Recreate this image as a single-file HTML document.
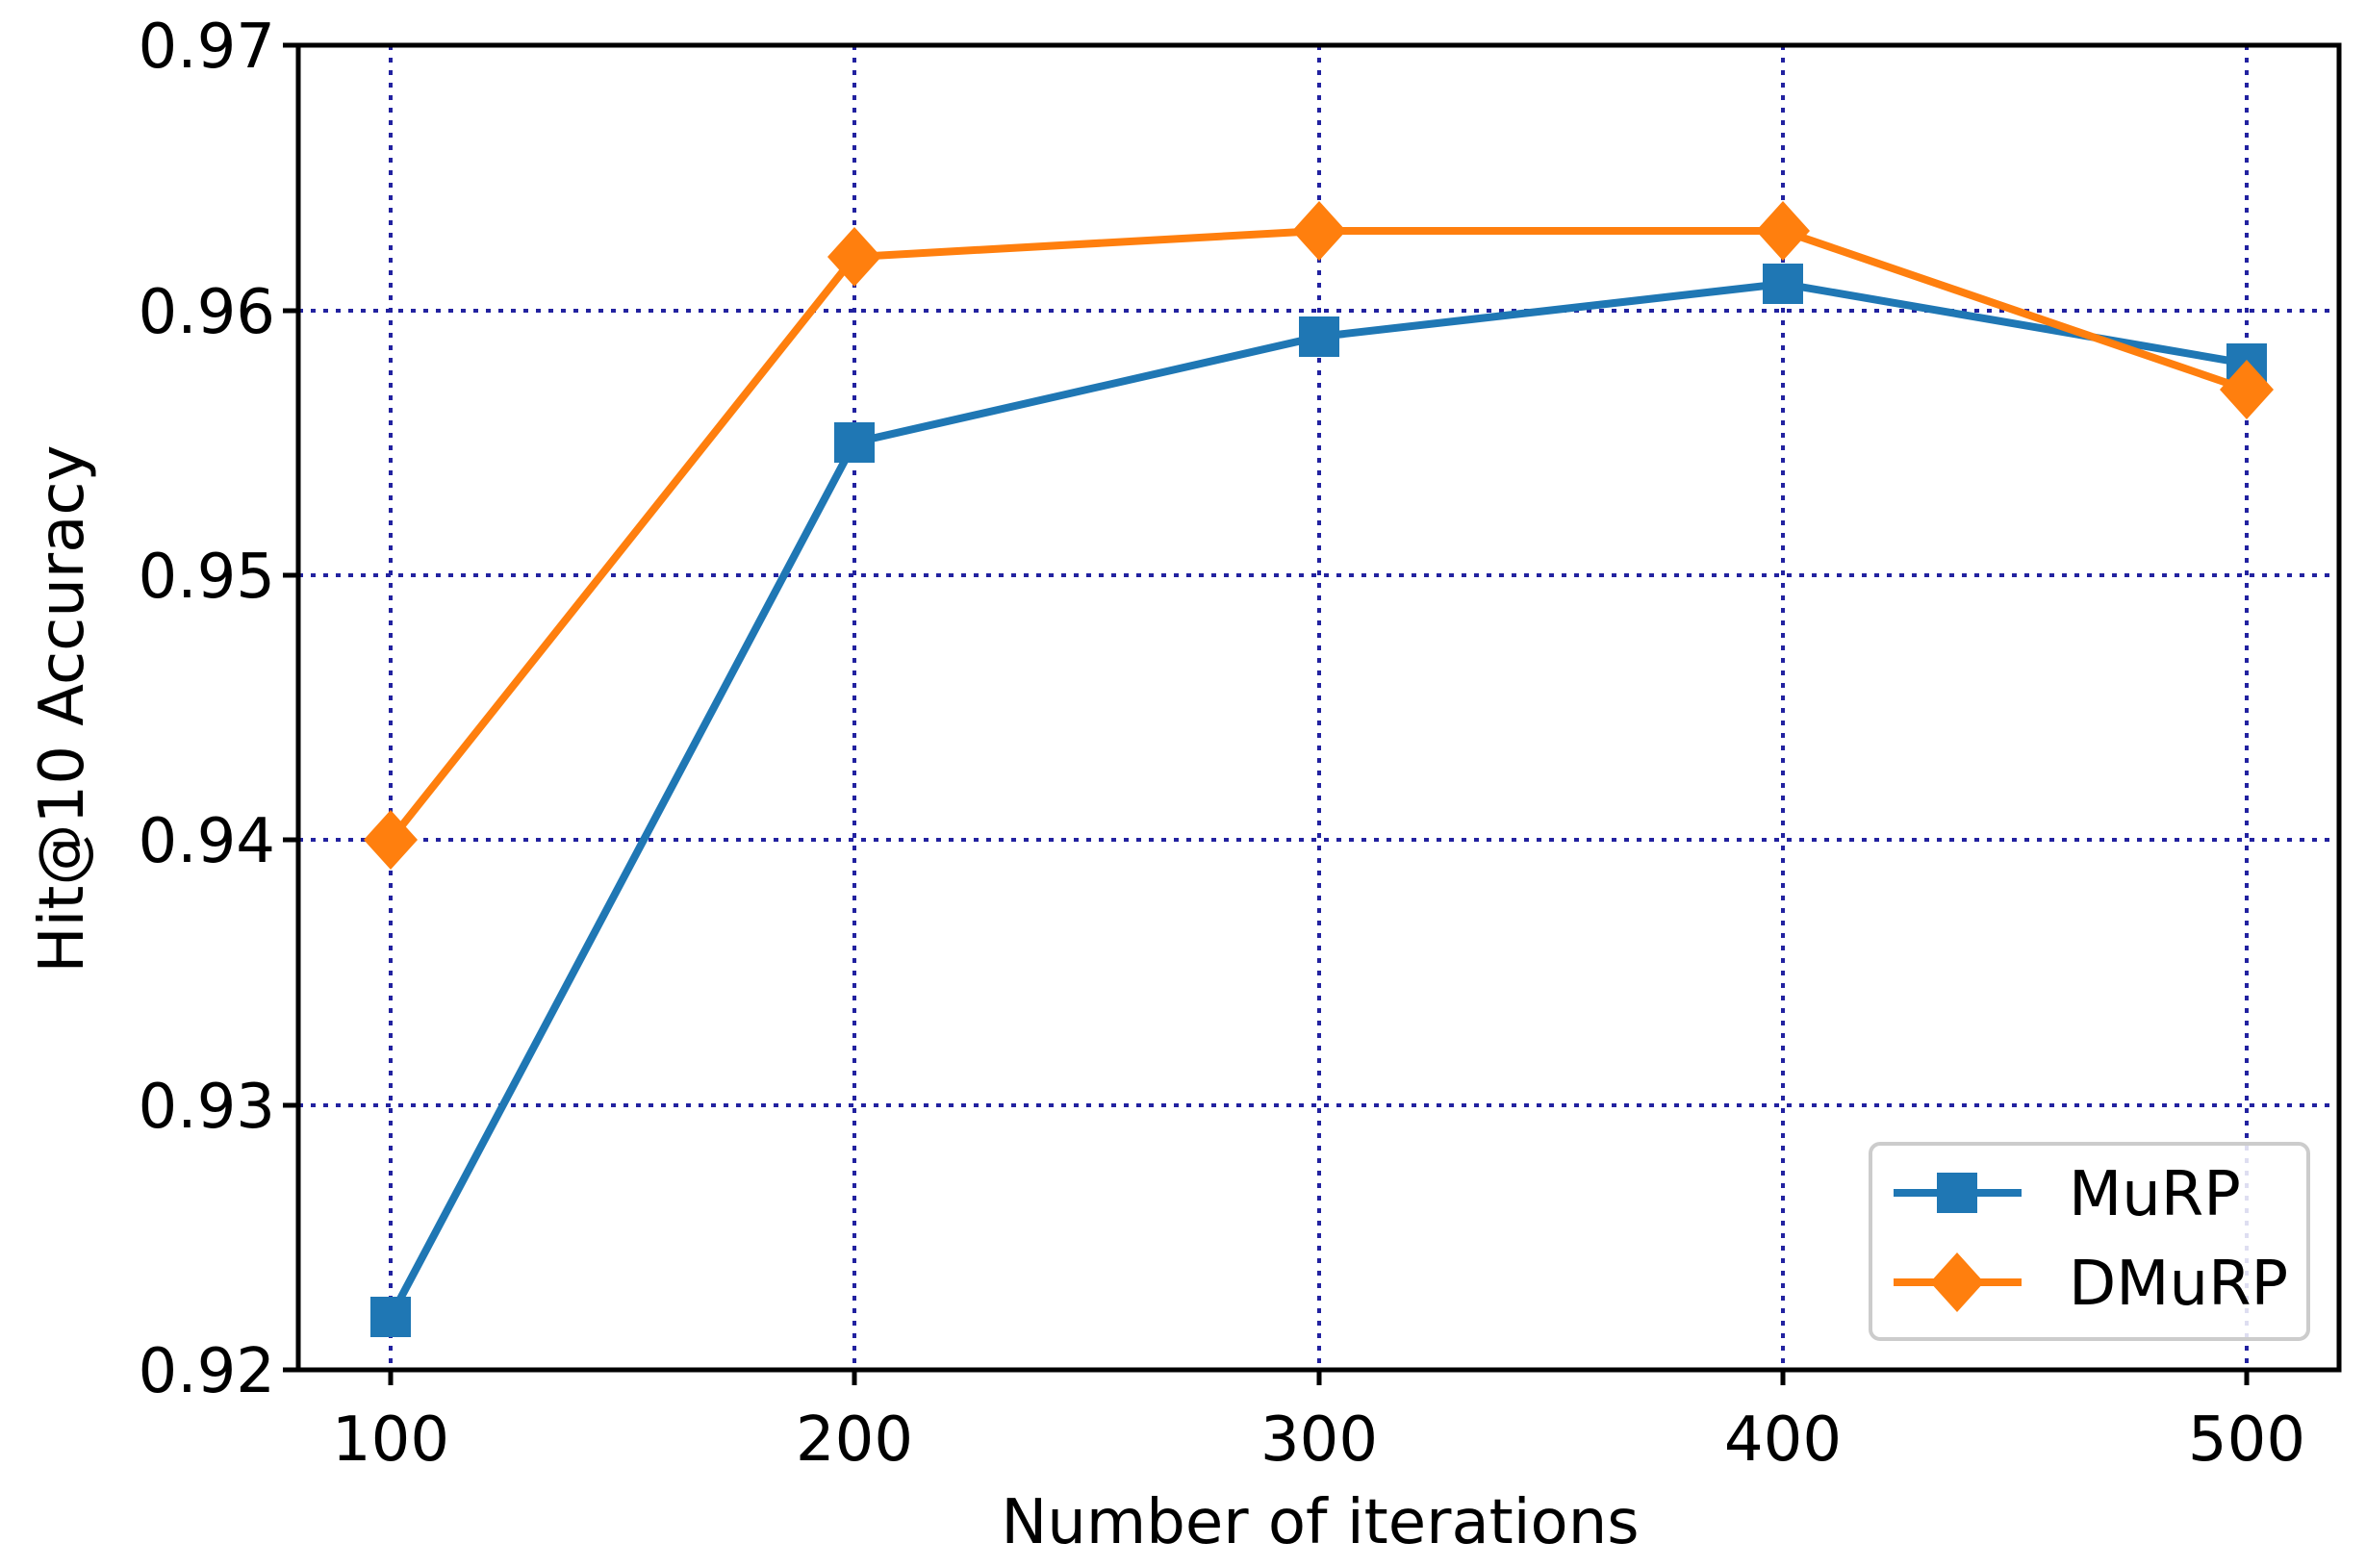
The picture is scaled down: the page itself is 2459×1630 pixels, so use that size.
<!DOCTYPE html>
<html><head><style>body{margin:0;background:#fff}svg{display:block}</style></head><body>
<svg width="2459" height="1630" viewBox="0 0 2459 1630" xmlns="http://www.w3.org/2000/svg" font-family="'DejaVu Sans','Liberation Sans',sans-serif">
<rect width="2459" height="1630" fill="#fff"/>
<g stroke="#2222a0" stroke-width="4" stroke-dasharray="5,8">
<line x1="406" y1="47" x2="406" y2="1424"/>
<line x1="888" y1="47" x2="888" y2="1424"/>
<line x1="1371" y1="47" x2="1371" y2="1424"/>
<line x1="1853" y1="47" x2="1853" y2="1424"/>
<line x1="2335" y1="47" x2="2335" y2="1424"/>
<line x1="310" y1="323" x2="2431" y2="323"/>
<line x1="310" y1="598" x2="2431" y2="598"/>
<line x1="310" y1="873" x2="2431" y2="873"/>
<line x1="310" y1="1149" x2="2431" y2="1149"/>
</g>
<rect x="310" y="47" width="2121" height="1377" fill="none" stroke="#000" stroke-width="5"/>
<g stroke="#000" stroke-width="5">
<line x1="294" y1="47" x2="310" y2="47"/><line x1="294" y1="323" x2="310" y2="323"/><line x1="294" y1="598" x2="310" y2="598"/><line x1="294" y1="873" x2="310" y2="873"/><line x1="294" y1="1149" x2="310" y2="1149"/><line x1="294" y1="1424" x2="310" y2="1424"/>
<line x1="406" y1="1424" x2="406" y2="1440"/><line x1="888" y1="1424" x2="888" y2="1440"/><line x1="1371" y1="1424" x2="1371" y2="1440"/><line x1="1853" y1="1424" x2="1853" y2="1440"/><line x1="2335" y1="1424" x2="2335" y2="1440"/>
</g>
<g font-size="64" fill="#000" text-anchor="end">
<text x="286" y="70">0.97</text><text x="286" y="346">0.96</text><text x="286" y="621">0.95</text><text x="286" y="896">0.94</text><text x="286" y="1172">0.93</text><text x="286" y="1447">0.92</text>
</g>
<g font-size="64" fill="#000" text-anchor="middle">
<text x="406" y="1518">100</text><text x="888" y="1518">200</text><text x="1371" y="1518">300</text><text x="1853" y="1518">400</text><text x="2335" y="1518">500</text>
<text x="1372" y="1604">Number of iterations</text>
<text transform="translate(86,737) rotate(-90)">Hit@10 Accuracy</text>
</g>
<polyline points="406,1369 888,460 1371,350 1853,295 2335,378" fill="none" stroke="#1f77b4" stroke-width="8"/>
<g fill="#1f77b4">
<rect x="385" y="1348" width="42" height="42"/><rect x="867" y="439" width="42" height="42"/><rect x="1350" y="329" width="42" height="42"/><rect x="1832" y="274" width="42" height="42"/><rect x="2314" y="357" width="42" height="42"/>
</g>
<polyline points="406,873 888,267 1371,240 1853,240 2335,405" fill="none" stroke="#ff7f0e" stroke-width="8"/>
<g fill="#ff7f0e">
<polygon points="406,842 434,873 406,904 378,873"/><polygon points="888,236 916,267 888,298 860,267"/><polygon points="1371,209 1399,240 1371,271 1343,240"/><polygon points="1853,209 1881,240 1853,271 1825,240"/><polygon points="2335,374 2363,405 2335,436 2307,405"/>
</g>
<rect x="1944" y="1189" width="455" height="203" rx="10" fill="#fff" fill-opacity="0.85" stroke="#ccc" stroke-width="4"/>
<line x1="1968" y1="1240" x2="2101" y2="1240" stroke="#1f77b4" stroke-width="8"/>
<rect x="2013" y="1219" width="42" height="42" fill="#1f77b4"/>
<line x1="1968" y1="1333" x2="2101" y2="1333" stroke="#ff7f0e" stroke-width="8"/>
<polygon points="2034,1302 2062,1333 2034,1364 2006,1333" fill="#ff7f0e"/>
<text x="2150" y="1263" font-size="64">MuRP</text>
<text x="2150" y="1356" font-size="64">DMuRP</text>
</svg>
</body></html>
